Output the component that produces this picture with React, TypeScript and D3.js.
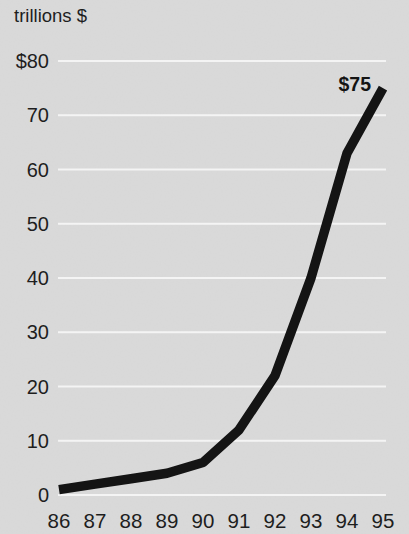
import React from "react";
import * as d3 from "d3";

const years = ["86", "87", "88", "89", "90", "91", "92", "93", "94", "95"];
const values = [1, 2, 3, 4, 6, 12, 22, 40, 63, 75];
const yTicks = [0, 10, 20, 30, 40, 50, 60, 70, 80];
const yTickLabels = ["0", "10", "20", "30", "40", "50", "60", "70", "$80"];
const unitLabel = "trillions $";
const endLabel = "$75";

const W = 409;
const H = 534;

export default function App() {
  const x = d3.scalePoint<string>().domain(years).range([59, 383]);
  const y = d3.scaleLinear().domain([0, 80]).range([495, 61]);
  const line = d3
    .line<number>()
    .x((_, i) => x(years[i]) as number)
    .y((d) => y(d));
  const font = "'Liberation Sans', Arial, Helvetica, sans-serif";
  const last = values.length - 1;
  return (
    <svg
      width={W}
      height={H}
      style={{ position: "fixed", left: 0, top: 0 }}
      fontFamily={font}
    >
      <defs>
        <filter id="paper" x="0" y="0" width="100%" height="100%">
          <feTurbulence type="fractalNoise" baseFrequency="0.6" numOctaves={2} seed={3} />
          <feColorMatrix type="matrix" values="0 0 0 0 0.5  0 0 0 0 0.5  0 0 0 0 0.5  0 0 0 0.08 0" />
        </filter>
      </defs>
      <rect width={W} height={H} fill="#dadada" />
      <rect width={W} height={H} filter="url(#paper)" />
      {yTicks.map((t, i) => (
        <g key={t}>
          <line x1={58} x2={386} y1={y(t)} y2={y(t)} stroke="#f4f4f4" strokeWidth={2} />
          <text
            x={49}
            y={y(t)}
            dy="0.36em"
            textAnchor="end"
            fontSize={20}
            fill="#1e1e1e"
          >
            {yTickLabels[i]}
          </text>
        </g>
      ))}
      <text x={14} y={22} fontSize={18.5} fill="#1e1e1e">
        {unitLabel}
      </text>
      {years.map((yr) => (
        <text
          key={yr}
          x={x(yr)}
          y={528}
          textAnchor="middle"
          fontSize={20.5}
          fill="#1e1e1e"
        >
          {yr}
        </text>
      ))}
      <path
        d={line(values) || ""}
        fill="none"
        stroke="#141414"
        strokeWidth={9.5}
        strokeLinejoin="round"
        strokeLinecap="butt"
      />
      <text
        x={(x(years[last]) as number) - 12}
        y={y(values[last]) + 3}
        textAnchor="end"
        fontSize={19.5}
        fontWeight="bold"
        fill="#141414"
      >
        {endLabel}
      </text>
    </svg>
  );
}
